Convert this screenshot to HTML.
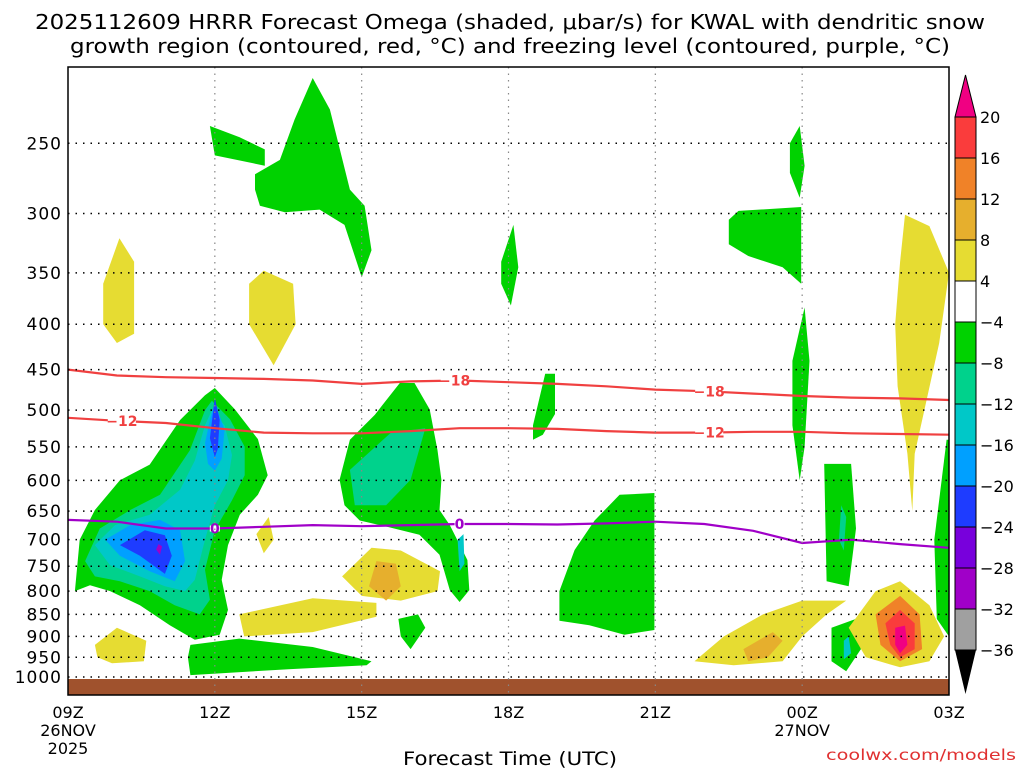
<!DOCTYPE html>
<html><head><meta charset="utf-8">
<style>
html,body{margin:0;padding:0;background:#fff;}
svg{display:block;font-family:"DejaVu Sans","Liberation Sans",sans-serif;}
</style></head>
<body>
<svg id="chart" width="1024" height="768" viewBox="0 0 1024 768">
<text x="510" y="29" font-size="20" text-anchor="middle" textLength="950" lengthAdjust="spacingAndGlyphs">2025112609 HRRR Forecast Omega (shaded, μbar/s) for KWAL with dendritic snow</text>
<text x="510" y="53" font-size="20" text-anchor="middle" textLength="880" lengthAdjust="spacingAndGlyphs">growth region (contoured, red, °C) and freezing level (contoured, purple, °C)</text>
<g id="plot"></g>
<text x="510" y="765" font-size="19" text-anchor="middle" textLength="214" lengthAdjust="spacingAndGlyphs">Forecast Time (UTC)</text>
<text x="1016" y="760" font-size="15" text-anchor="end" fill="#e03030" textLength="190" lengthAdjust="spacingAndGlyphs">coolwx.com/models</text>
</svg>
<script>
const xTickHours=[0,3,6,9,12,15,18];
const xTickLabels=["09Z","12Z","15Z","18Z","21Z","00Z","03Z"];
const yTicks=[250,300,350,400,450,500,550,600,650,700,750,800,850,900,950,1000];
const cbLabels=["20","16","12","8","4","\u22124","\u22128","\u221212","\u221216","\u221220","\u221224","\u221228","\u221232","\u221236"];
const cbColors=["#fa3c3c","#f08228","#e6af2d","#e6dc32","#ffffff","#00d200","#00d28c","#00c8c8","#00a0ff","#1e3cff","#7800dc","#a000c8","#a0a0a0"];
const lineHours=[0,1,2,3,4,5,6,7,8,9,10,11,12,13,14,15,16,17,18];
const line18=[450,457,459,460,461,463,467,464,463,465,467,470,474,476,479,482,484,485,487];
const line12=[510,514,517,524,530,531,531,528,524,524,525,528,530,530,529,529,531,532,533];
const line0=[665,668,680,680,677,674,676,674,672,672,673,671,668,672,684,706,700,708,715];
const blobs=[
 ["#00d200",[[0.14,800],[0.24,700],[0.55,648],[1.06,600],[1.67,576],[2.29,513],[2.8,481],[3.0,472],[3.41,499],[3.88,539],[4.08,592],[3.88,623],[3.51,656],[3.27,710],[3.14,777],[3.27,840],[3.1,896],[2.59,908],[2.08,874],[1.47,830],[0.86,800],[0.45,788]]],
 ["#00d28c",[[0.35,740],[0.65,680],[1.27,648],[1.88,623],[2.49,555],[2.8,500],[2.94,488],[3.31,512],[3.61,550],[3.61,592],[3.35,632],[3.0,683],[2.8,757],[2.9,818],[2.69,850],[2.18,830],[1.67,800],[1.06,780],[0.55,770]]],
 ["#00c8c8",[[0.55,710],[0.96,674],[1.67,656],[2.29,615],[2.59,570],[2.8,520],[2.94,500],[3.2,520],[3.35,562],[3.27,600],[3.0,640],[2.8,700],[2.59,777],[2.39,800],[1.98,790],[1.47,770],[0.86,748]]],
 ["#00a0ff",[[0.76,700],[1.27,674],[1.88,665],[2.29,683],[2.39,740],[2.18,780],[1.67,760],[1.06,730]]],
 ["#00a0ff",[[2.8,545],[2.9,513],[3.0,490],[3.2,526],[3.14,567],[3.0,585],[2.86,575]]],
 ["#1e3cff",[[1.06,710],[1.57,683],[1.98,692],[2.12,730],[1.98,765],[1.47,730]]],
 ["#1e3cff",[[2.9,538],[3.0,484],[3.1,513],[3.06,553],[3.0,565]]],
 ["#a000c8",[[1.85,708],[1.92,712],[1.88,728],[1.8,718]]],
 ["#00d200",[[3.82,271],[4.33,261],[4.63,235],[5.0,211],[5.35,229],[5.76,282],[6.06,294],[6.2,330],[6.0,354],[5.65,309],[5.14,297],[4.43,299],[3.92,294],[3.82,282]]],
 ["#00d200",[[2.9,239],[3.5,246],[4.02,254],[4.02,265],[3.0,258]]],
 ["#00d200",[[8.85,340],[9.1,309],[9.2,345],[9.05,381],[8.85,360]]],
 ["#00d200",[[14.75,250],[14.95,239],[15.05,265],[14.95,288],[14.75,270]]],
 ["#00d200",[[13.5,305],[13.7,298],[14.98,295],[14.98,360],[14.6,345],[13.9,335],[13.5,325]]],
 ["#00d200",[[14.8,440],[15.05,383],[15.15,440],[15.05,550],[14.95,600],[14.8,520]]],
 ["#00d200",[[5.55,599],[5.76,540],[6.27,506],[6.78,466],[7.08,466],[7.39,499],[7.55,555],[7.63,599],[7.59,648],[7.8,674],[8.16,738],[8.2,798],[8.0,823],[7.8,798],[7.59,728],[7.18,691],[6.57,678],[5.96,666],[5.65,640]]],
 ["#00d28c",[[5.76,584],[6.6,530],[7.3,524],[7.0,599],[6.5,640],[5.86,640]]],
 ["#00c8c8",[[7.96,700],[8.08,690],[8.1,745],[8.0,760]]],
 ["#00d200",[[9.5,520],[9.75,455],[9.95,455],[9.95,505],[9.7,533],[9.5,540]]],
 ["#00d200",[[10.04,800],[10.35,719],[10.76,666],[11.27,623],[11.98,620],[11.98,885],[11.37,896],[10.65,874],[10.04,864]]],
 ["#00d200",[[6.75,860],[7.15,850],[7.3,880],[7.0,930],[6.8,900]]],
 ["#00d200",[[2.5,920],[3.5,905],[5.0,925],[6.2,960],[6.1,970],[4.5,980],[2.5,995],[2.45,950]]],
 ["#00d200",[[15.45,575],[16.0,575],[16.1,680],[15.95,790],[15.5,780]]],
 ["#00d28c",[[15.8,640],[15.9,660],[15.85,720],[15.75,700]]],
 ["#00d200",[[15.6,880],[16.1,860],[16.2,930],[15.9,985],[15.6,960]]],
 ["#00c8c8",[[15.85,910],[15.95,900],[16.0,940],[15.85,955]]],
 ["#00d200",[[17.7,700],[17.95,540],[18,540],[18,900],[17.75,860]]],
 ["#e6dc32",[[0.72,360],[1.05,320],[1.35,340],[1.35,410],[1.0,420],[0.72,400]]],
 ["#e6dc32",[[3.7,360],[4.0,348],[4.6,360],[4.65,400],[4.2,445],[3.7,400]]],
 ["#e6dc32",[[3.85,690],[4.1,660],[4.2,700],[4.0,725]]],
 ["#e6dc32",[[17.1,301],[17.6,310],[18,350],[17.8,420],[17.3,560],[17.25,650],[17.15,560],[16.95,470],[16.9,400],[17.0,340]]],
 ["#e6dc32",[[5.6,770],[6.2,715],[6.8,720],[7.6,760],[7.55,800],[6.8,820],[6.0,810]]],
 ["#e6af2d",[[6.3,740],[6.7,745],[6.8,790],[6.5,820],[6.15,790]]],
 ["#e6dc32",[[3.5,850],[5.0,815],[6.3,825],[6.3,855],[5.0,890],[3.6,900]]],
 ["#e6dc32",[[0.55,920],[1.0,880],[1.6,910],[1.55,960],[0.9,965],[0.6,950]]],
 ["#e6dc32",[[12.8,960],[13.4,900],[14.2,850],[15.0,820],[15.9,820],[15.5,850],[15.0,900],[14.6,960],[13.6,970]]],
 ["#e6af2d",[[13.8,930],[14.4,890],[14.6,910],[14.3,950],[13.9,960]]],
 ["#e6dc32",[[15.95,880],[16.5,800],[17.0,780],[17.6,830],[17.9,900],[17.6,960],[17.0,975],[16.3,950]]],
 ["#f08228",[[16.5,850],[17.0,810],[17.4,850],[17.45,930],[17.0,960],[16.6,920]]],
 ["#fa3c3c",[[16.7,870],[17.0,840],[17.3,870],[17.3,930],[17.0,950],[16.8,920]]],
 ["#f00082",[[16.9,880],[17.1,875],[17.15,920],[17.0,940],[16.9,920]]]
];
const X0=68,X1=949,Y0=67,Y1=695;
const xs=h=>X0+h*(X1-X0)/18;
const ys=p=>677-Math.log(1000/p)*385;
const NS="http://www.w3.org/2000/svg";
const plot=document.getElementById('plot');
function mk(tag,attrs,parent){const e=document.createElementNS(NS,tag);for(const k in attrs)e.setAttribute(k,attrs[k]);(parent||plot).appendChild(e);return e;}
const clip=mk('clipPath',{id:'pc'});mk('rect',{x:X0,y:Y0,width:X1-X0,height:Y1-Y0},clip);
const g=mk('g',{'clip-path':'url(#pc)'});
blobs.forEach((b,i)=>{
 const d=b[1].map((pt,j)=>(j?'L':'M')+xs(pt[0]).toFixed(1)+','+ys(pt[1]).toFixed(1)).join('')+'Z';
 const e=mk('path',{d:d,fill:b[0]},g);
 
 
});
const gr=mk('rect',{x:X0,y:679,width:X1-X0,height:Y1-679,fill:'#a0522d'});


yTicks.forEach(p=>{
 const l=mk('line',{x1:X0,x2:X1,y1:ys(p),y2:ys(p),stroke:'#000','stroke-width':1.5,'stroke-dasharray':'1.5,6'});
 
 
 const t=mk('text',{x:62,y:ys(p)+6,'font-size':17,'text-anchor':'end','letter-spacing':'1'});t.textContent=p;
 
 
});
xTickHours.forEach((h,i)=>{
 if(i>0&&i<6){const l=mk('line',{x1:xs(h),x2:xs(h),y1:Y0,y2:Y1,stroke:'#888','stroke-width':1.2,'stroke-dasharray':'1.5,5'});
 
 }
 const t=mk('text',{x:xs(h),y:718,'font-size':16,'text-anchor':'middle'});t.textContent=xTickLabels[i];
 
 
});
[["26NOV",0,736],["2025",0,754],["27NOV",15,736]].forEach(a=>{const t=mk('text',{x:xs(a[1]),y:a[2],'font-size':16,'text-anchor':'middle'});t.textContent=a[0];
 
 });
function drawLine(vals,color,name,labelsAt,lab){
 const d=vals.map((p,i)=>(i?'L':'M')+xs(lineHours[i]).toFixed(1)+','+ys(p).toFixed(1)).join('');
 const e=mk('path',{d:d,fill:'none',stroke:color,'stroke-width':2.2},g);
 
 
 labelsAt.forEach(h=>{const i=Math.floor(h);const p=vals[i]+(vals[i+1]-vals[i])*(h-i);
  const w=lab.length>1?28:10;
  mk('rect',{x:xs(h)-w/2,y:ys(p)-3,width:w,height:6,fill:'#fff'},g);
  const t=mk('text',{x:xs(h),y:ys(p)+5,'font-size':14,'font-weight':'bold','text-anchor':'middle',fill:color},g);t.textContent=lab;
  
  });
}
drawLine(line18,'#f04040','line-minus18',[7.9,13.1],'\u221218');
drawLine(line12,'#f04040','line-minus12',[1.1,13.1],'\u221212');
drawLine(line0,'#a000c8','line-zero',[3.0,8.0],'0');
const fr=mk('rect',{x:X0,y:Y0,width:X1-X0,height:Y1-Y0,fill:'none',stroke:'#000','stroke-width':1.5});


const cbx=955,cbw=21,cbTop=117,cbStep=41;
const tri=mk('path',{d:`M${cbx},${cbTop}L${cbx+cbw/2},75L${cbx+cbw},${cbTop}Z`,fill:'#f00082',stroke:'#000'});


cbColors.forEach((c,i)=>{const r=mk('rect',{x:cbx,y:cbTop+i*cbStep,width:cbw,height:cbStep,fill:c,stroke:'#000','stroke-width':1});
 
 });
const yb=cbTop+cbColors.length*cbStep;
const tri2=mk('path',{d:`M${cbx},${yb}L${cbx+cbw/2},694L${cbx+cbw},${yb}Z`,fill:'#000'});


cbLabels.forEach((s,i)=>{const t=mk('text',{x:980,y:cbTop+i*cbStep+6,'font-size':16});t.textContent=s;
 
 });
</script>
</body></html>
